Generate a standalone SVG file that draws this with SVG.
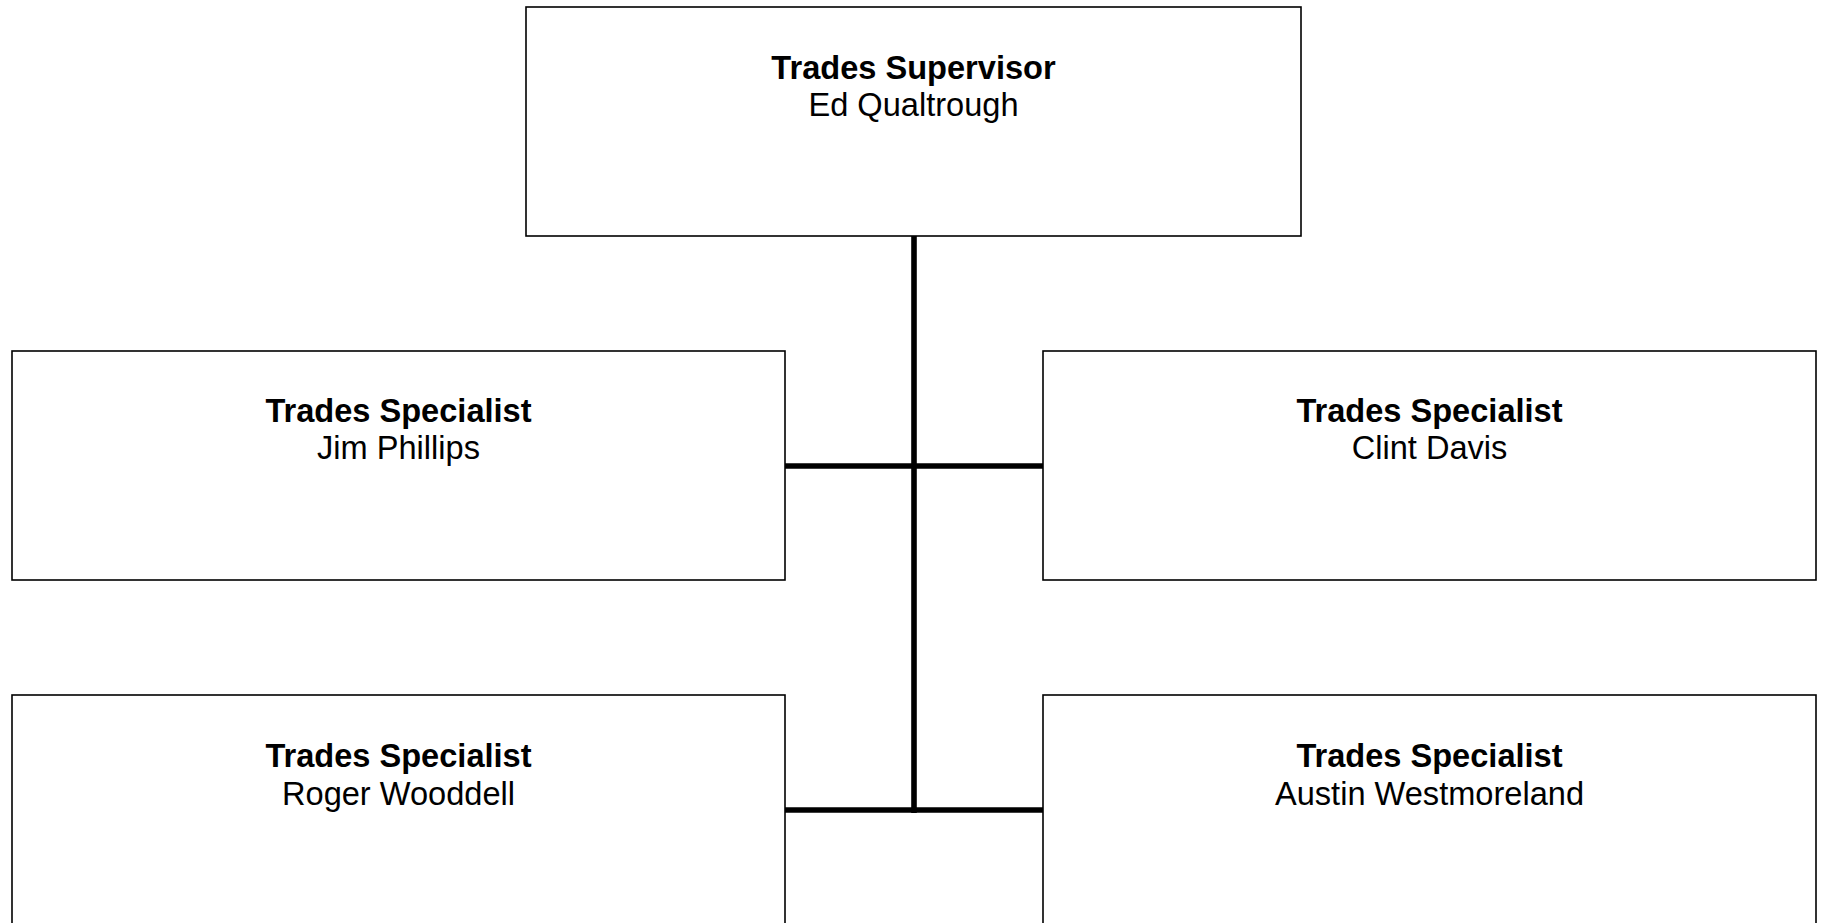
<svg xmlns="http://www.w3.org/2000/svg" width="1823" height="923" viewBox="0 0 1823 923">
<style>
.box{fill:#fff;stroke:#000;stroke-width:1.6}
.t{font-family:"Liberation Sans",Arial,sans-serif;font-size:32.6px;fill:#000;text-anchor:middle}
.b{font-weight:bold}
.c{stroke:#000;stroke-width:5.6;fill:none}
</style>
<rect width="1823" height="923" fill="#fff"/>
<g id="connectors">
<line class="c" x1="914" y1="236" x2="914" y2="813"/>
<line class="c" x1="785" y1="466" x2="1043" y2="466"/>
<line class="c" x1="785" y1="810" x2="1043" y2="810"/>
</g>
<g id="supervisor">
<rect class="box" x="526" y="7" width="775" height="229"/>
<text class="t b" x="913.5" y="78.5">Trades Supervisor</text>
<text class="t" x="913.5" y="115.5">Ed Qualtrough</text>
</g>
<g id="jim">
<rect class="box" x="12" y="351" width="773" height="229"/>
<text class="t b" x="398.5" y="422">Trades Specialist</text>
<text class="t" x="398.5" y="459">Jim Phillips</text>
</g>
<g id="clint">
<rect class="box" x="1043" y="351" width="773" height="229"/>
<text class="t b" x="1429.5" y="422">Trades Specialist</text>
<text class="t" x="1429.5" y="459">Clint Davis</text>
</g>
<g id="roger">
<rect class="box" x="12" y="695" width="773" height="240"/>
<text class="t b" x="398.5" y="767">Trades Specialist</text>
<text class="t" x="398.5" y="804.5">Roger Wooddell</text>
</g>
<g id="austin">
<rect class="box" x="1043" y="695" width="773" height="240"/>
<text class="t b" x="1429.5" y="767">Trades Specialist</text>
<text class="t" x="1429.5" y="804.5">Austin Westmoreland</text>
</g>
</svg>
